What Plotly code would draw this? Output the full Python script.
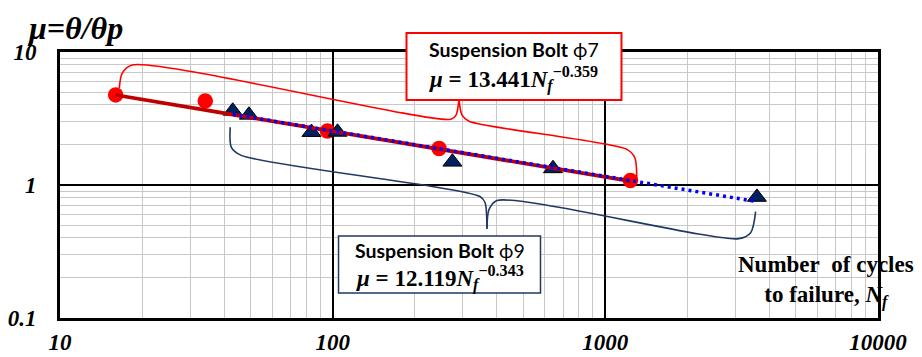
import plotly.graph_objects as go

# ---- data ----
bolt7_N = [16.0, 34.1, 95.7, 245.5, 1236]
bolt7_mu = [4.76, 4.29, 2.55, 1.88, 1.08]

bolt9_N = [43.0, 49.3, 83.6, 104.2, 274.9, 642.6, 3597]
bolt9_mu = [3.60, 3.36, 2.49, 2.50, 1.49, 1.33, 0.81]

# fitted power-law trend lines (end points as drawn)
trend7_N = [16.0, 1236]
trend7_mu = [4.75, 1.07]
trend9_N = [43.0, 3597]
trend9_mu = [3.40, 0.75]

x_ticks = [10, 100, 1000, 10000]
x_ticktext = ["10", "100", "1000", "10000"]
y_ticks = [0.1, 1, 10]
y_ticktext = ["0.1", "1", "10"]

# braces (left half / right half, data coordinates)
brace7_left_N = [16.5, 16.9, 18.4, 271.6, 283.5, 290.6]
brace7_left_mu = [5.35, 6.9, 7.98, 3.12, 3.35, 4.42]
brace7_right_N = [290.6, 298.1, 316.2, 1199, 1282, 1304]
brace7_right_mu = [4.42, 3.35, 3.02, 1.853, 1.61, 1.14]

brace9_left_N = [42.1, 42.5, 46.2, 347, 362, 368]
brace9_left_mu = [2.72, 1.919, 1.67, 0.819, 0.738, 0.4695]
brace9_right_N = [368, 374.4, 400.5, 3083, 3412, 3558]
brace9_right_mu = [0.4695, 0.653, 0.764, 0.395, 0.438, 0.631]

minor_x = [k * 10 ** d for d in (1, 2, 3) for k in range(2, 10)]
minor_y = [k * 10 ** d for d in (-1, 0) for k in range(2, 10)]

SERIF = "Liberation Serif"
SANS = "Lato"

fig = go.Figure()

fig.add_trace(go.Scatter(x=bolt7_N, y=bolt7_mu, mode="markers",
                         marker=dict(symbol="circle", size=15.5, color="#FF0000"),
                         showlegend=False, hoverinfo="skip"))
fig.add_trace(go.Scatter(x=bolt9_N, y=bolt9_mu, mode="markers",
                         marker=dict(symbol="triangle-up", size=16.5, color="#002060",
                                     line=dict(color="black", width=1)),
                         showlegend=False, hoverinfo="skip"))
fig.add_trace(go.Scatter(x=trend7_N, y=trend7_mu, mode="lines",
                         line=dict(color="#C00000", width=3.8),
                         showlegend=False, hoverinfo="skip"))
fig.add_trace(go.Scatter(x=trend9_N, y=trend9_mu, mode="lines",
                         line=dict(color="#0000FF", width=3.5, dash="3px,4px"),
                         showlegend=False, hoverinfo="skip"))

for bx, by, col in [(brace7_left_N, brace7_left_mu, "#FF0000"),
                    (brace7_right_N, brace7_right_mu, "#FF0000"),
                    (brace9_left_N, brace9_left_mu, "#1F3864"),
                    (brace9_right_N, brace9_right_mu, "#1F3864")]:
    fig.add_trace(go.Scatter(x=bx, y=by, mode="lines",
                             line=dict(color=col, width=1.6, shape="spline", smoothing=0.8),
                             showlegend=False, hoverinfo="skip"))

axis_common = dict(type="log", showgrid=True, gridcolor="black", gridwidth=2,
                   showline=True, linecolor="black", linewidth=3, mirror=True,
                   ticks="", zeroline=False, automargin=False,
                   tickfont=dict(family=SERIF, size=23, color="black", weight="bold", style="italic"))

fig.update_xaxes(range=[1, 4], tickvals=x_ticks, ticktext=x_ticktext,
                 ticklabelstandoff=1,
                 minor=dict(tickvals=minor_x, showgrid=True, gridcolor="#C8C8C8", gridwidth=1, ticks=""),
                 **axis_common)
fig.update_yaxes(range=[-1, 1], tickvals=y_ticks, ticktext=y_ticktext,
                 ticklabelstandoff=16,
                 minor=dict(tickvals=minor_y, showgrid=True, gridcolor="#C8C8C8", gridwidth=1, ticks=""),
                 **axis_common)

# text boxes
fig.add_shape(type="rect", xref="paper", yref="paper", x0=0.4236, x1=0.6864, y0=0.8195, y1=1.0714,
              line=dict(color="#FF0000", width=2), fillcolor="white", layer="above")
fig.add_shape(type="rect", xref="paper", yref="paper", x0=0.3405, x1=0.5874, y0=0.094, y1=0.3083,
              line=dict(color="#1F3864", width=1.5), fillcolor="white", layer="above")

ann = []
ann.append(dict(x=0.555, y=1.0094, text="<b>Suspension Bolt</b> ϕ7",
                font=dict(family=SANS, size=19.5, color="black")))
ann.append(dict(x=0.555, y=0.8985,
                text="<b><i>μ</i> = 13.441<i>N</i><sub><i>f</i></sub><sup>−0.359</sup></b>",
                font=dict(family=SERIF, size=23, color="black")))
ann.append(dict(x=0.464, y=0.2519, text="<b>Suspension Bolt</b> ϕ9",
                font=dict(family=SANS, size=19.5, color="black")))
ann.append(dict(x=0.464, y=0.1504,
                text="<b><i>μ</i> = 12.119<i>N</i><sub><i>f</i></sub><sup>−0.343</sup></b>",
                font=dict(family=SERIF, size=23, color="black")))
ann.append(dict(x=0.0185, y=1.09, text="<b><i>μ=θ/θp</i></b>",
                font=dict(family=SERIF, size=32, color="black")))
ann.append(dict(x=0.9364, y=0.139, text="<b>Number\u00a0 of cycles<br>to failure, <i>N<sub>f</sub></i></b>",
                font=dict(family=SERIF, size=23, color="black")))
for a in ann:
    fig.add_annotation(xref="paper", yref="paper", xanchor="center", yanchor="middle",
                       showarrow=False, **a)

fig.update_layout(width=922, height=357, margin=dict(l=60, r=44, t=52, b=39, autoexpand=False),
                  plot_bgcolor="white", paper_bgcolor="white")

fig.write_html("out.html")
